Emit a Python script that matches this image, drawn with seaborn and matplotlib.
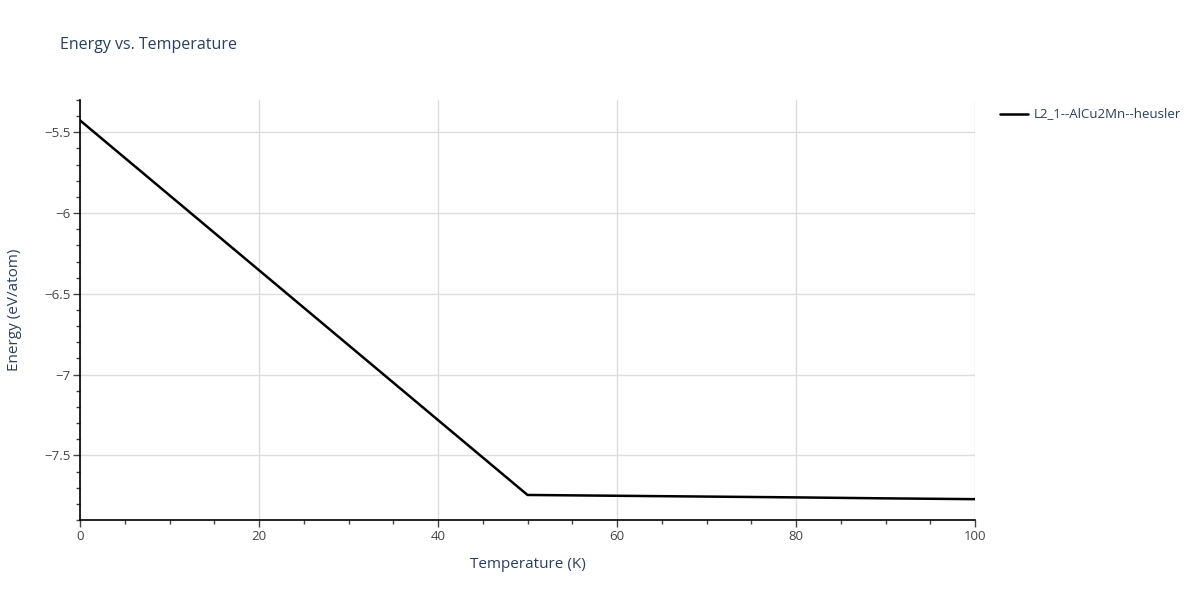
import matplotlib
matplotlib.use("Agg")
import matplotlib.pyplot as plt
from matplotlib.ticker import MultipleLocator
import seaborn as sns
import pandas as pd

# data
temperature = [0, 50, 60, 70, 80, 90, 100]
energy = [-5.426, -7.745, -7.750, -7.755, -7.760, -7.766, -7.771]
series_name = "L2_1--AlCu2Mn--heusler"

df = pd.DataFrame({"Temperature (K)": temperature, "Energy (eV/atom)": energy,
                   "structure": series_name})

sns.set_style("white")
plt.rcParams['font.family'] = ['Open Sans', 'DejaVu Sans']
text_col = "#2a3f5f"
tick_col = "#444444"

fig = plt.figure(figsize=(12, 6), dpi=100)
ax = fig.add_axes([80 / 1200, 80 / 600, 895 / 1200, 420 / 600])

sns.lineplot(data=df, x="Temperature (K)", y="Energy (eV/atom)", hue="structure",
             palette=["black"], linewidth=1.8, ax=ax, legend=False)

ax.set_xlim(0, 100)
ax.set_ylim(-7.90, -5.30)
ax.xaxis.set_major_locator(MultipleLocator(20))
ax.xaxis.set_minor_locator(MultipleLocator(5))
ax.yaxis.set_major_locator(MultipleLocator(0.5))
ax.yaxis.set_minor_locator(MultipleLocator(0.1))
ax.yaxis.set_major_formatter(plt.FuncFormatter(
    lambda v, p: ("%g" % v).replace("-", "\u2212")))

ax.grid(True, which="major", color="#dcdcdc", linewidth=1)
ax.set_axisbelow(True)
for s in ["top", "right"]:
    ax.spines[s].set_visible(False)
for s in ["left", "bottom"]:
    ax.spines[s].set_color("black")
    ax.spines[s].set_linewidth(1.2)

ax.tick_params(axis="both", which="both", bottom=True, left=True)
ax.tick_params(axis="both", which="major", direction="out", length=5, width=1,
               color="#444444", labelsize=9.5, labelcolor=tick_col, pad=2)
ax.tick_params(axis="both", which="minor", direction="out", length=3, width=1,
               color="#444444")

ax.set_xlabel("Temperature (K)", fontsize=11, color=text_col, labelpad=10)
ax.set_ylabel("Energy (eV/atom)", fontsize=11, color=text_col, labelpad=16)

fig.text(60 / 1200, 1 - 45 / 600, "Energy vs. Temperature", fontsize=11.5,
         color=text_col, va="center", ha="left")

# legend
fig.lines.append(plt.Line2D([1000 / 1200, 1028 / 1200], [1 - 114 / 600] * 2,
                            color="black", linewidth=1.8, transform=fig.transFigure))
fig.text(1034 / 1200, 1 - 114 / 600, series_name, fontsize=9.5, color=text_col,
         va="center", ha="left")

fig.savefig("out.png", dpi=100)
